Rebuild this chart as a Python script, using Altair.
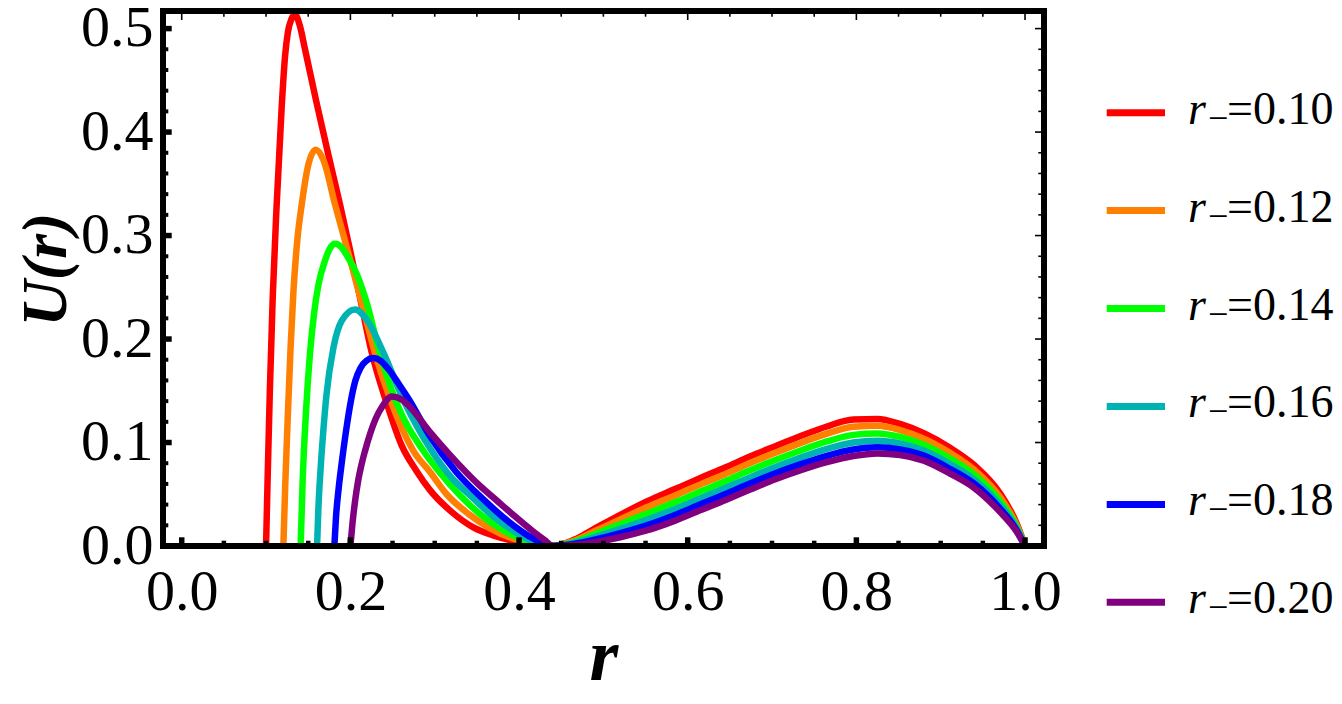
import altair as alt
import pandas as pd

# ---------------- data ----------------
labels = ["0.10", "0.12", "0.14", "0.16", "0.18", "0.20"]
colors = ["#ff0000", "#ff7f00", "#00ff00", "#00b3b3", "#0000ff", "#800080"]

# common r positions of the outer part (after the touching point near r = 0.44)
r_outer = [0.4406, 0.4650, 0.4921, 0.5200, 0.5514, 0.5850, 0.6146, 0.6450, 0.6739, 0.7040,
           0.7332, 0.7650, 0.7964, 0.8250, 0.8518, 0.8800, 0.9110, 0.9400, 0.9703, 0.9900,
           1.0000]

r_red_in = [0.1000, 0.1020, 0.1045, 0.1079, 0.1126, 0.1186, 0.1225, 0.1260, 0.1300, 0.1344,
            0.1400, 0.1462, 0.1600, 0.1739, 0.1877, 0.2004, 0.2120, 0.2253, 0.2423, 0.2609,
            0.2780, 0.2944, 0.3200, 0.3458, 0.3700, 0.3932, 0.4200]
u_red_in = [0.000, 0.070, 0.150, 0.240, 0.330, 0.425, 0.473, 0.497, 0.509, 0.5135,
            0.503, 0.480, 0.428, 0.378, 0.330, 0.283, 0.238, 0.187, 0.140, 0.097,
            0.073, 0.054, 0.033, 0.018, 0.010, 0.005, 0.0015]
u_red_out = [0.000, 0.006, 0.018, 0.030, 0.043, 0.055, 0.0655, 0.076, 0.0865, 0.0965,
             0.106, 0.1155, 0.1222, 0.1228, 0.118, 0.109, 0.095, 0.078, 0.051, 0.022,
             0.000]

r_orange_in = [0.1205, 0.1228, 0.1260, 0.1290, 0.1324, 0.1370, 0.1423, 0.1500, 0.1589, 0.1680,
               0.1818, 0.1976, 0.2134, 0.2290, 0.2480, 0.2747, 0.2944, 0.3142, 0.3400, 0.3656,
               0.3932, 0.4200]
u_orange_in = [0.000, 0.060, 0.130, 0.190, 0.245, 0.295, 0.330, 0.368, 0.383, 0.373,
               0.330, 0.283, 0.235, 0.187, 0.140, 0.092, 0.0715, 0.050, 0.031, 0.017,
               0.007, 0.002]
u_orange_out = [0.000, 0.005, 0.0152, 0.0257, 0.0374, 0.0489, 0.0593, 0.0697, 0.0801, 0.0901,
                0.0994, 0.1086, 0.1152, 0.1161, 0.112, 0.1037, 0.090, 0.0736, 0.0474, 0.0204,
                0.000]

r_green_in = [0.1410, 0.1435, 0.1474, 0.1520, 0.1570, 0.1620, 0.1700, 0.1760, 0.1818, 0.1890,
              0.1950, 0.2080, 0.2194, 0.2330, 0.2540, 0.2865, 0.3050, 0.3298, 0.3550, 0.3775,
              0.4050]
u_green_in = [0.000, 0.065, 0.130, 0.185, 0.225, 0.252, 0.276, 0.288, 0.292, 0.289,
              0.282, 0.262, 0.235, 0.192, 0.140, 0.092, 0.072, 0.049, 0.030, 0.017,
              0.006]
u_green_out = [0.000, 0.0039, 0.0121, 0.021, 0.0312, 0.0422, 0.0525, 0.0628, 0.0731, 0.0831,
               0.0921, 0.101, 0.1074, 0.1088, 0.1054, 0.0979, 0.0845, 0.0688, 0.0434, 0.0186,
               0.000]

r_cyan_in = [0.1605, 0.1620, 0.1648, 0.1680, 0.1715, 0.1800, 0.1900, 0.2055, 0.2200, 0.2390,
             0.2636, 0.2964, 0.3200, 0.3439, 0.3700, 0.3890, 0.4150]
u_cyan_in = [0.000, 0.035, 0.076, 0.112, 0.145, 0.192, 0.218, 0.2286, 0.218, 0.187,
             0.140, 0.092, 0.066, 0.0475, 0.028, 0.017, 0.005]
u_cyan_out = [0.000, 0.0029, 0.0092, 0.0165, 0.0254, 0.0358, 0.046, 0.0562, 0.0663, 0.0763,
              0.0852, 0.0938, 0.100, 0.1018, 0.0991, 0.0923, 0.0793, 0.0641, 0.0397, 0.017,
              0.000]

r_blue_in = [0.1810, 0.1830, 0.1860, 0.1897, 0.1950, 0.2010, 0.2060, 0.2120, 0.2190, 0.2272,
             0.2360, 0.2450, 0.2570, 0.2707, 0.2944, 0.3250, 0.3577, 0.3932, 0.4150]
u_blue_in = [0.000, 0.0286, 0.055, 0.080, 0.112, 0.142, 0.160, 0.172, 0.179, 0.1816,
             0.179, 0.171, 0.157, 0.140, 0.106, 0.072, 0.045, 0.020, 0.008]
u_blue_out = [0.000, 0.0019, 0.0065, 0.0124, 0.020, 0.030, 0.0401, 0.0502, 0.0603, 0.0703,
              0.0789, 0.0872, 0.0933, 0.0955, 0.0934, 0.0873, 0.0745, 0.060, 0.0362, 0.0154,
              0.000]

r_purple_in = [0.2000, 0.2025, 0.2055, 0.2090, 0.2130, 0.2174, 0.2240, 0.2300, 0.2380, 0.2490,
               0.2600, 0.2700, 0.2944, 0.3180, 0.3537, 0.3735, 0.3932, 0.4168, 0.4300]
u_purple_in = [0.000, 0.022, 0.043, 0.062, 0.078, 0.092, 0.110, 0.123, 0.135, 0.1445,
               0.142, 0.135, 0.110, 0.088, 0.058, 0.044, 0.030, 0.014, 0.006]
u_purple_out = [0.000, 0.001, 0.004, 0.0085, 0.015, 0.0245, 0.0345, 0.0445, 0.0545, 0.0645,
                0.073, 0.081, 0.087, 0.0895, 0.088, 0.0825, 0.070, 0.056, 0.033, 0.014,
                0.000]

x_major = [0.0, 0.2, 0.4, 0.6, 0.8, 1.0]
x_minor = [0.05, 0.1, 0.15, 0.25, 0.3, 0.35, 0.45, 0.5, 0.55, 0.65, 0.7, 0.75, 0.85, 0.9, 0.95]
y_major = [0.0, 0.1, 0.2, 0.3, 0.4, 0.5]
y_minor = [0.02, 0.04, 0.06, 0.08, 0.12, 0.14, 0.16, 0.18, 0.22, 0.24, 0.26, 0.28,
           0.32, 0.34, 0.36, 0.38, 0.42, 0.44, 0.46, 0.48]

# ---------------- tables ----------------
series = [
    (labels[0], r_red_in, u_red_in, u_red_out),
    (labels[1], r_orange_in, u_orange_in, u_orange_out),
    (labels[2], r_green_in, u_green_in, u_green_out),
    (labels[3], r_cyan_in, u_cyan_in, u_cyan_out),
    (labels[4], r_blue_in, u_blue_in, u_blue_out),
    (labels[5], r_purple_in, u_purple_in, u_purple_out),
]

W, H = 881, 535
FONT = "Liberation Serif, Times New Roman, DejaVu Serif, serif"
xs = alt.Scale(domain=[-0.0222, 1.0225], nice=False, zero=False)
ys = alt.Scale(domain=[0, 0.517], nice=False, zero=False)
cs = alt.Scale(domain=labels, range=colors)

x_axis = alt.Axis(values=x_major, format=".1f", grid=False, ticks=False, tickSize=0,
                  domain=False, labelFont=FONT, labelFontSize=58, labelColor="black",
                  labelPadding=63, labelBaseline="alphabetic", labelFlush=False,
                  labelOverlap=False,
                  title="r", titleFont=FONT, titleFontSize=74, titleFontStyle="italic",
                  titleFontWeight="bold", titleColor="black", titleY=133,
                  titleBaseline="alphabetic")
y_axis = alt.Axis(values=y_major, format=".1f", grid=False, ticks=False, tickSize=0,
                  domain=False, labelFont=FONT, labelFontSize=58, labelColor="black",
                  labelPadding=10, labelBaseline="middle", labelFlush=False,
                  labelOverlap=False,
                  title="U(r)", titleFont=FONT, titleFontSize=64, titleFontStyle="italic",
                  titleFontWeight="bold", titleColor="black", titleAngle=270,
                  titleX=-98, titleY=258, titleBaseline="alphabetic", titleAlign="center")

main_layers = []
for lab, r_in, u_in, u_out in series:
    d = pd.DataFrame({"r": list(r_in) + list(r_outer), "U": list(u_in) + list(u_out),
                      "series": lab})
    main_layers.append(
        alt.Chart(d).mark_line(strokeWidth=6.5, interpolate="monotone", clip=True).encode(
            x=alt.X("r:Q", scale=xs, axis=x_axis),
            y=alt.Y("U:Q", scale=ys, axis=y_axis),
            color=alt.Color("series:N", scale=cs, legend=None),
        )
    )

def xticks(vals, y0, y1, sw):
    return alt.Chart(pd.DataFrame({"r": vals})).mark_rule(color="black", strokeWidth=sw).encode(
        x=alt.X("r:Q", scale=xs, axis=x_axis), y=alt.value(y0), y2=alt.value(y1))

def yticks(vals, x0, x1, sw):
    return alt.Chart(pd.DataFrame({"U": vals})).mark_rule(color="black", strokeWidth=sw).encode(
        y=alt.Y("U:Q", scale=ys, axis=y_axis), x=alt.value(x0), x2=alt.value(x1))

tick_layers = [
    xticks(x_major, H, H - 8.7, 5.5),
    xticks(x_minor, H, H - 5.3, 4.5),
    xticks(x_major, 0, 9, 1.6),
    xticks(x_minor, 0, 5.7, 1.6),
    yticks(y_major, 0, 8.7, 5.5),
    yticks(y_minor, 0, 5.3, 4),
    yticks(y_major, W, W - 9, 1.6),
    yticks(y_minor, W, W - 5.7, 1.6),
]

frame = alt.Chart(pd.DataFrame({"f": [0]})).mark_rect(
    filled=False, stroke="black", strokeWidth=6).encode(
    x=alt.value(0), x2=alt.value(W), y=alt.value(0), y2=alt.value(H))

main = alt.layer(*main_layers, *tick_layers, frame)

# ---------------- legend ----------------
leg = pd.DataFrame({"series": labels, "txt": ["=" + s for s in labels]})
ly = alt.Y("series:N", scale=alt.Scale(type="point", domain=labels, range=[101.7, 591.3],
                                       padding=0), axis=None)
leg_sym = alt.Chart(leg).mark_rule(strokeWidth=7).encode(
    x=alt.value(943.7), x2=alt.value(1002), y=ly,
    color=alt.Color("series:N", scale=cs, legend=None))
leg_r = alt.Chart(leg).mark_text(font=FONT, fontStyle="italic", fontSize=46, align="left",
                                 baseline="alphabetic", dy=11, color="black").encode(
    x=alt.value(1025), y=ly, text=alt.value("r"))
leg_sub = alt.Chart(leg).mark_text(font=FONT, fontSize=36, align="left",
                                   baseline="alphabetic", dy=17, color="black").encode(
    x=alt.value(1045), y=ly, text=alt.value("\u2212"))
leg_t = alt.Chart(leg).mark_text(font=FONT, fontSize=46, align="left",
                                 baseline="alphabetic", dy=11, color="black").encode(
    x=alt.value(1064), y=ly, text="txt:N")
legend = alt.layer(leg_sym, leg_r, leg_sub, leg_t)

chart = alt.layer(main, legend).resolve_scale(y="independent").properties(
    width=W, height=H,
    autosize=alt.AutoSizeParams(type="none"),
    padding={"left": 155, "top": 3, "right": 290, "bottom": 149},
).configure_view(stroke=None)

chart.save("out.html", embed_options={"renderer": "svg", "actions": False})
